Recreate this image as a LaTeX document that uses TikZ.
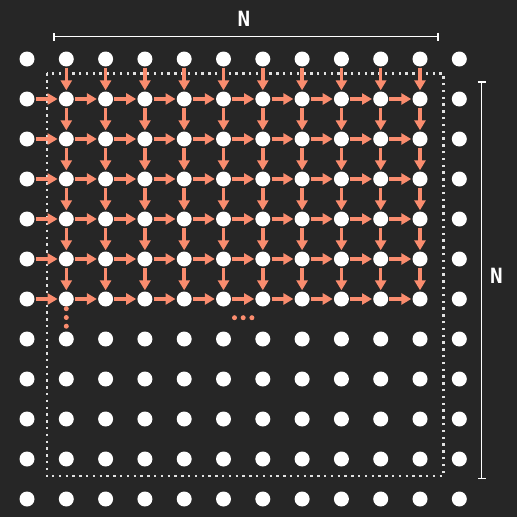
\documentclass[tikz,border=0pt]{standalone}
\usepackage{fontspec}
\newfontfamily\monofont{DejaVu Sans Mono}
\usetikzlibrary{arrows.meta}
\definecolor{bg}{RGB}{38,38,38}
\definecolor{sal}{RGB}{250,140,110}
\definecolor{dotline}{RGB}{225,225,225}
\begin{document}
\begin{tikzpicture}[x=1pt,y=1pt,
  dot/.style={circle,fill=white,minimum size=15pt,inner sep=0pt},
  edot/.style={circle,fill=sal,minimum size=5pt,inner sep=0pt},
  flow/.style={draw=sal,line width=3.5pt,-{Triangle[length=10pt,width=11pt]},shorten >=1pt,shorten <=1pt},
  dim/.style={draw=white,line width=1.5pt,{Bar[width=8pt,line width=1.5pt]}-{Bar[width=8pt,line width=1.5pt]}},
  lbl/.style={text=white,font=\monofont\bfseries\fontsize{21}{21}\selectfont,inner sep=0pt},
  frame/.style={draw=dotline,line width=2.4pt,dash pattern=on 2.4pt off 4.4pt}]
\fill[bg] (0,0) rectangle (517,-517);
\useasboundingbox (0,0) rectangle (517,-517);
% dotted frame
\draw[frame] (46.7,-73.3) rectangle (443.3,-476);
% grid of dots
\foreach \c in {0,...,11}{
  \foreach \r in {0,...,11}{
    \node[dot] (d\c-\r) at ({27+39.3*\c},{-59-40*\r}) {};
  }
}
% horizontal arrows
\foreach \r in {1,...,6}{
  \foreach \c [evaluate=\c as \n using int(\c+1)] in {0,...,9}{
    \draw[flow] (d\c-\r) -- (d\n-\r);
  }
}
% vertical arrows
\foreach \c in {1,...,10}{
  \foreach \r [evaluate=\r as \n using int(\r+1)] in {0,...,5}{
    \draw[flow] (d\c-\r) -- (d\c-\n);
  }
}
% ellipsis dots
\node[edot] (v1) at (66.3,-308.7) {};
\node[edot] (v2) at (66.3,-317.5) {};
\node[edot] (v3) at (66.3,-326.2) {};
\node[edot] (h1) at (234.5,-317.7) {};
\node[edot] (h2) at (243.2,-317.7) {};
\node[edot] (h3) at (251.9,-317.7) {};
% dimension lines
\coordinate (t1) at (53,-36.7);
\coordinate (t2) at (438.7,-36.7);
\coordinate (r1) at (481.5,-81.3);
\coordinate (r2) at (481.5,-479.3);
\draw[dim] (t1) -- (t2);
\draw[dim] (r1) -- (r2);
\node[lbl] (nt) at (244,-19) {N};
\node[lbl] (nr) at (496.5,-276) {N};
\end{tikzpicture}
\end{document}
